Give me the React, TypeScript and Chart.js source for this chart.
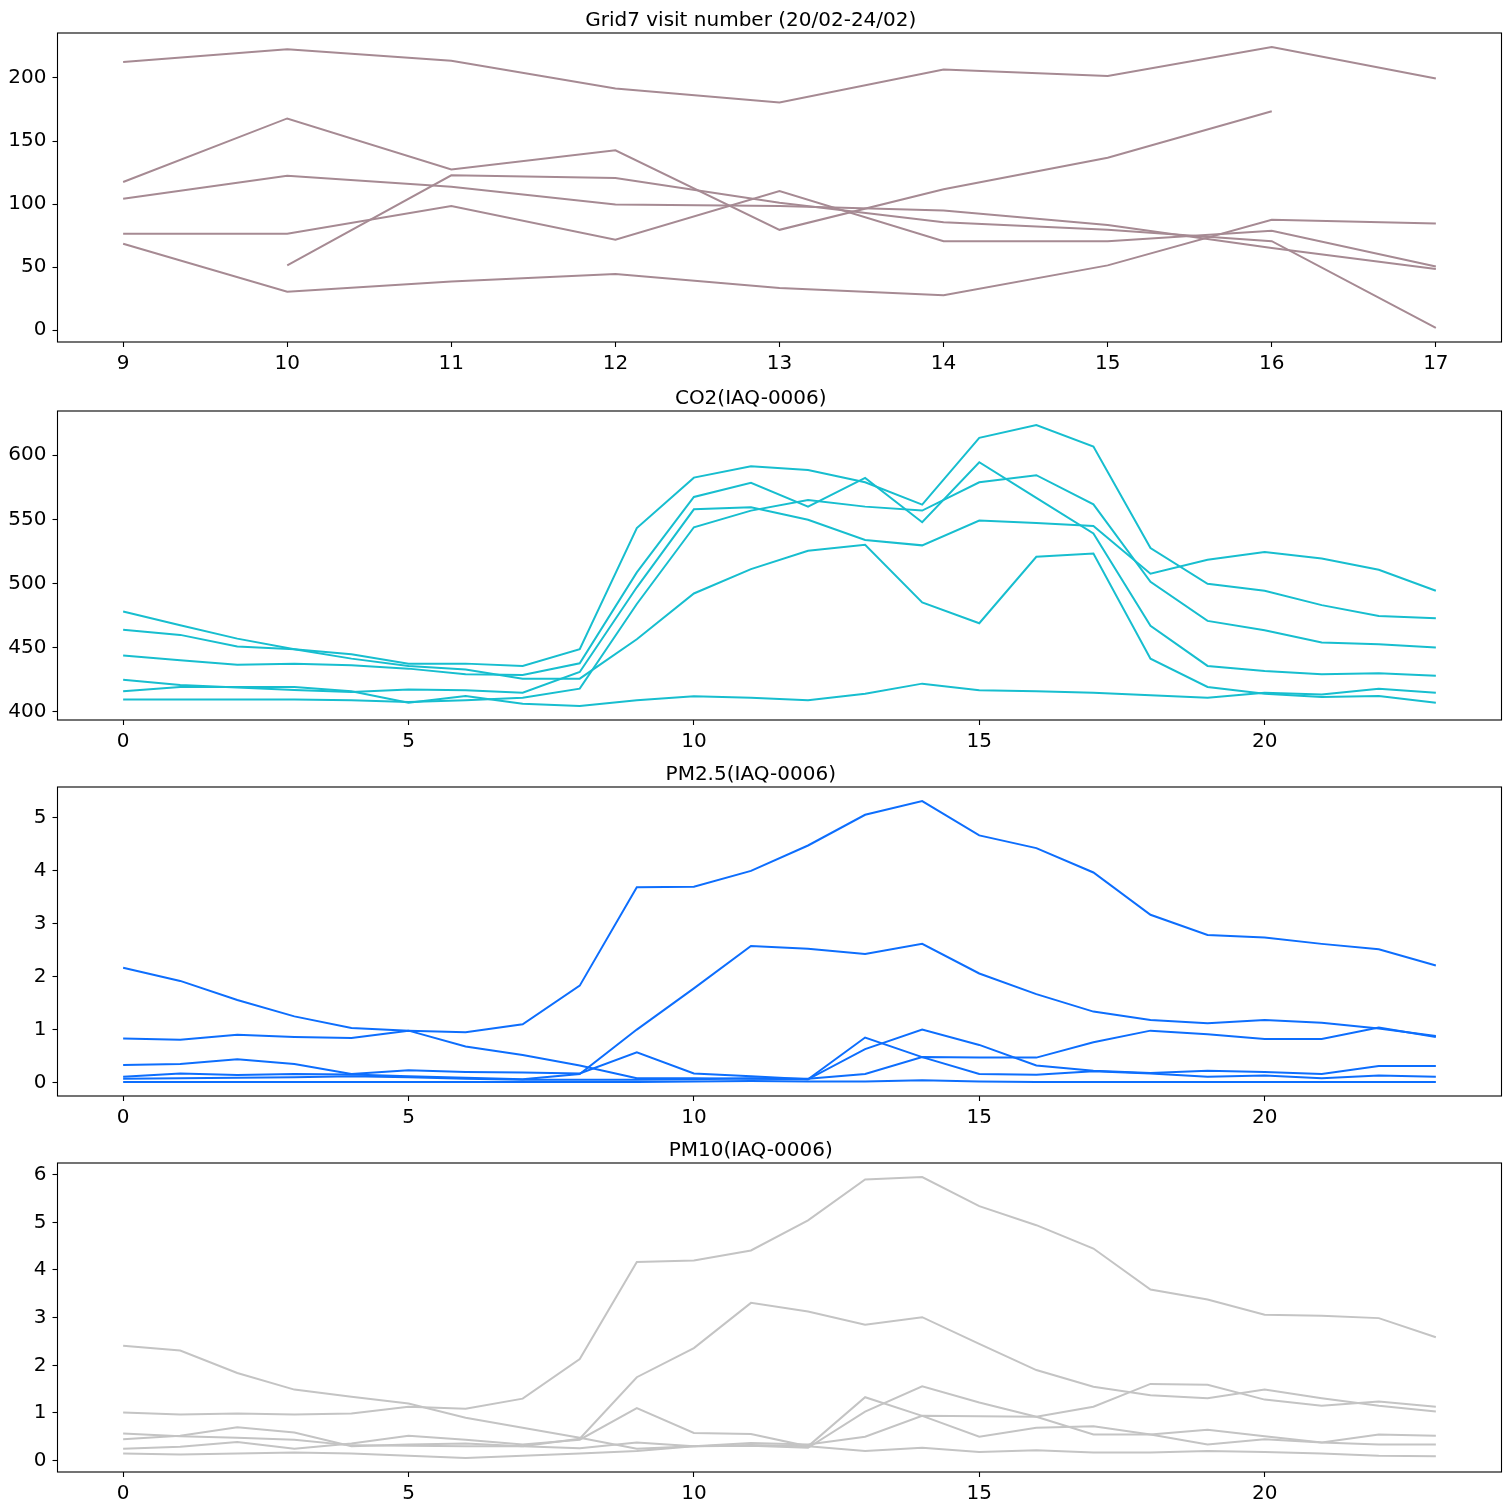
import React, { useEffect, useRef } from "react";
import { Chart, registerables } from "chart.js";

Chart.register(...registerables);

// ---------- DATA ----------
const gridHours = [9, 10, 11, 12, 13, 14, 15, 16, 17];
const gridDay1 = [212.6, 222.7, 213.7, 191.6, 180.5, 206.6, 201.6, 224.5, 199.5];
const gridDay2 = [117.5, 167.9, 127.5, 142.6, 79.6, 111.7, 136.8, 173.6, null];
const gridDay3 = [104.3, 122.5, 113.8, 99.6, 98.5, 94.9, 83.5, 65.1, 48.5];
const gridDay4 = [76.4, 76.4, 98.5, 71.7, 110.4, 70.6, 70.6, 78.8, 50.6];
const gridDay5 = [68.5, 30.6, 38.7, 44.5, 33.5, 27.7, 51.4, 87.5, 84.6];
const gridDay6 = [null, 51.4, 122.8, 120.7, 101, 85.6, 79.6, 70.6, 1.8];

const hours = [0, 1, 2, 3, 4, 5, 6, 7, 8, 9, 10, 11, 12, 13, 14, 15, 16, 17, 18, 19, 20, 21, 22, 23];

const co2Day1 = [464, 459.9, 450.8, 448.7, 444.8, 437.5, 437.5, 435.7, 448.7, 543.2, 582.5, 591.4, 588.5, 578.9, 561.5, 613.5, 623.5, 606.8, 527.6, 499.7, 494.3, 483.1, 474.7, 472.9];
const co2Day2 = [443.8, 440.1, 436.7, 437.5, 436.2, 433.6, 429.2, 428.6, 437.8, 508.6, 567.4, 578.4, 559.9, 582.3, 547.7, 594.5, 566.7, 539, 467, 435.7, 431.8, 429.2, 430, 428.1];
const co2Day3 = [425, 420.8, 418.8, 416.9, 415.4, 417.4, 416.7, 414.8, 431, 497, 557.8, 559.4, 549.7, 533.9, 529.7, 549, 547.1, 544.8, 507.6, 518.5, 524.5, 519.5, 510.7, 494.3];
const co2Day4 = [409.6, 409.6, 409.6, 409.6, 408.9, 407.6, 408.9, 410.9, 418, 484, 543.8, 556.8, 565, 559.9, 556.8, 578.9, 584.4, 561.7, 501.3, 470.8, 463.5, 453.9, 452.6, 450];
const co2Day5 = [478.1, 467.4, 457, 448.7, 441.4, 435.7, 433, 425.8, 425.8, 456.5, 492.2, 511.2, 525.5, 530.2, 485.2, 469, 520.8, 523.4, 441.4, 419.3, 414, 411.5, 412.2, 407];
const co2Day6 = [415.9, 419.3, 419.3, 419.3, 415.9, 407, 412.2, 406.3, 404.5, 408.9, 412, 410.9, 408.9, 414, 421.9, 416.7, 415.9, 414.8, 412.8, 410.9, 414.8, 413.5, 418, 414.8];

const pm25Day1 = [0.83, 0.81, 0.9, 0.86, 0.84, 0.98, 0.95, 1.1, 1.83, 3.69, 3.7, 4.0, 4.48, 5.06, 5.32, 4.67, 4.43, 3.97, 3.17, 2.79, 2.74, 2.62, 2.52, 2.21];
const pm25Day2 = [2.17, 1.92, 1.56, 1.25, 1.03, 0.98, 0.68, 0.52, 0.32, 0.08, 0.08, 0.07, 0.06, 0.63, 1.0, 0.71, 0.32, 0.22, 0.18, 0.22, 0.2, 0.16, 0.31, 0.31];
const pm25Day3 = [0.33, 0.35, 0.44, 0.35, 0.16, 0.23, 0.2, 0.19, 0.17, 0.57, 0.17, 0.12, 0.06, 0.85, 0.48, 0.16, 0.145, 0.21, 0.17, 0.11, 0.13, 0.08, 0.13, 0.11];
const pm25Day4 = [0.11, 0.17, 0.14, 0.16, 0.15, 0.12, 0.09, 0.06, 0.16, 1.0, 1.78, 2.58, 2.53, 2.43, 2.62, 2.06, 1.67, 1.34, 1.18, 1.12, 1.18, 1.13, 1.02, 0.88];
const pm25Day5 = [0.07, 0.08, 0.09, 0.1, 0.12, 0.1, 0.07, 0.05, 0.05, 0.05, 0.06, 0.08, 0.07, 0.16, 0.48, 0.47, 0.47, 0.76, 0.98, 0.91, 0.82, 0.82, 1.04, 0.86];
const pm25Day6 = [0.01, 0.01, 0.01, 0.01, 0.01, 0.01, 0.01, 0.01, 0.01, 0.01, 0.02, 0.03, 0.02, 0.02, 0.04, 0.02, 0.01, 0.01, 0.01, 0.01, 0.01, 0.01, 0.01, 0.01];

const pm10Day1 = [1.01, 0.97, 0.99, 0.97, 0.99, 1.13, 1.09, 1.3, 2.13, 4.17, 4.2, 4.41, 5.04, 5.9, 5.95, 5.34, 4.94, 4.45, 3.59, 3.38, 3.06, 3.04, 2.99, 2.59];
const pm10Day2 = [2.41, 2.31, 1.84, 1.49, 1.34, 1.2, 0.9, 0.69, 0.48, 0.25, 0.3, 0.31, 0.27, 1.03, 1.56, 1.22, 0.92, 0.55, 0.55, 0.65, 0.51, 0.38, 0.55, 0.52];
const pm10Day3 = [0.25, 0.29, 0.39, 0.25, 0.36, 0.52, 0.44, 0.34, 0.44, 1.1, 0.58, 0.56, 0.3, 1.33, 0.94, 0.5, 0.69, 0.72, 0.55, 0.34, 0.45, 0.38, 0.34, 0.34];
const pm10Day4 = [0.57, 0.51, 0.48, 0.44, 0.32, 0.31, 0.3, 0.3, 0.46, 1.75, 2.36, 3.31, 3.13, 2.85, 3.01, 2.45, 1.9, 1.55, 1.37, 1.31, 1.49, 1.31, 1.15, 1.03];
const pm10Day5 = [0.45, 0.52, 0.7, 0.59, 0.3, 0.34, 0.36, 0.3, 0.26, 0.38, 0.3, 0.37, 0.34, 0.5, 0.94, 0.93, 0.92, 1.13, 1.61, 1.59, 1.28, 1.15, 1.24, 1.13];
const pm10Day6 = [0.15, 0.13, 0.15, 0.17, 0.15, 0.1, 0.056, 0.1, 0.15, 0.2, 0.3, 0.33, 0.3, 0.2, 0.27, 0.18, 0.22, 0.17, 0.17, 0.2, 0.18, 0.15, 0.1, 0.09];

const titles = [
  "Grid7 visit number (20/02-24/02)",
  "CO2(IAQ-0006)",
  "PM2.5(IAQ-0006)",
  "PM10(IAQ-0006)",
];

// ---------- LAYOUT / STYLE ----------
type Series = (number | null)[];
type Panel = {
  title: string;
  xs: number[];
  series: Series[];
  color: string;
  xStep: number;
  yStep: number;
  plotTop: number;
};

const FONT = "'DejaVu Sans', 'Liberation Sans', sans-serif";
const TITLE_H = 26;
const PLOT_H = 309;
const XAXIS_H = 40;
const Y_AXIS_W = 57.5;
const RIGHT_PAD = 9.5;

const panels: Panel[] = [
  { title: titles[0], xs: gridHours, series: [gridDay1, gridDay2, gridDay3, gridDay4, gridDay5, gridDay6], color: "#a68a93", xStep: 1, yStep: 50, plotTop: 33 },
  { title: titles[1], xs: hours, series: [co2Day1, co2Day2, co2Day3, co2Day4, co2Day5, co2Day6], color: "#17becf", xStep: 5, yStep: 50, plotTop: 411 },
  { title: titles[2], xs: hours, series: [pm25Day1, pm25Day2, pm25Day3, pm25Day4, pm25Day5, pm25Day6], color: "#0d6efd", xStep: 5, yStep: 1, plotTop: 787 },
  { title: titles[3], xs: hours, series: [pm10Day1, pm10Day2, pm10Day3, pm10Day4, pm10Day5, pm10Day6], color: "#c4c4c4", xStep: 5, yStep: 1, plotTop: 1163 },
];

function marginRange(values: number[]): [number, number] {
  const mn = Math.min(...values);
  const mx = Math.max(...values);
  const m = (mx - mn) * 0.05;
  return [mn - m, mx + m];
}

const framePlugin = {
  id: "frame",
  afterDraw(chart: any) {
    const { ctx, chartArea: a } = chart;
    ctx.save();
    ctx.strokeStyle = "#000";
    ctx.lineWidth = 1.1;
    ctx.strokeRect(a.left, a.top, a.right - a.left, a.bottom - a.top);
    ctx.restore();
  },
};

function PanelChart({ panel }: { panel: Panel }) {
  const ref = useRef<HTMLCanvasElement>(null);
  const height = TITLE_H + PLOT_H + XAXIS_H;

  useEffect(() => {
    if (!ref.current) return;
    const allY = panel.series.flat().filter((v) => v !== null) as number[];
    const [ymin, ymax] = marginRange(allY);
    const [xmin, xmax] = marginRange(panel.xs);
    const tickFont = { family: FONT, size: 20 };
    const chart = new Chart(ref.current, {
      type: "line",
      data: {
        datasets: panel.series.map((s) => ({
          data: panel.xs.map((x, i) => ({ x, y: s[i] })),
          borderColor: panel.color,
          backgroundColor: panel.color,
          borderWidth: 2,
          pointRadius: 0,
          fill: false,
          tension: 0,
          spanGaps: false,
        })),
      },
      options: {
        animation: false,
        responsive: false,
        maintainAspectRatio: false,
        events: [],
        layout: { padding: { left: 0, right: RIGHT_PAD, top: 0, bottom: 0 } },
        plugins: {
          legend: { display: false },
          tooltip: { enabled: false },
          title: {
            display: true,
            text: panel.title,
            color: "#000",
            font: { family: FONT, size: 20, weight: "normal", lineHeight: 1.2 },
            padding: { top: 2, bottom: 0 },
          },
        },
        scales: {
          x: {
            type: "linear",
            min: xmin,
            max: xmax,
            ticks: {
              stepSize: panel.xStep,
              includeBounds: false,
              color: "#000",
              font: tickFont,
              padding: 5,
              maxRotation: 0,
              autoSkip: false,
            },
            grid: {
              display: true,
              drawOnChartArea: false,
              drawTicks: true,
              tickLength: 5,
              tickColor: "#000",
              tickWidth: 1.1,
            },
            border: { display: false },
            afterFit: (s: any) => {
              s.height = XAXIS_H;
            },
          },
          y: {
            type: "linear",
            min: ymin,
            max: ymax,
            ticks: {
              stepSize: panel.yStep,
              includeBounds: false,
              color: "#000",
              font: tickFont,
              padding: 6,
            },
            grid: {
              display: true,
              drawOnChartArea: false,
              drawTicks: true,
              tickLength: 5,
              tickColor: "#000",
              tickWidth: 1.1,
            },
            border: { display: false },
            afterFit: (s: any) => {
              s.width = Y_AXIS_W;
            },
          },
        },
      } as any,
      plugins: [framePlugin],
    });
    return () => chart.destroy();
  }, [panel]);

  return (
    <canvas
      ref={ref}
      width={1511}
      height={height}
      style={{
        position: "absolute",
        left: 0,
        top: panel.plotTop - TITLE_H,
        width: 1511,
        height,
      }}
    />
  );
}

export default function App() {
  return (
    <div
      style={{
        position: "absolute",
        left: 0,
        top: 0,
        width: 1511,
        height: 1511,
        background: "#fff",
        overflow: "hidden",
      }}
    >
      {panels.map((p, i) => (
        <PanelChart key={i} panel={p} />
      ))}
    </div>
  );
}
